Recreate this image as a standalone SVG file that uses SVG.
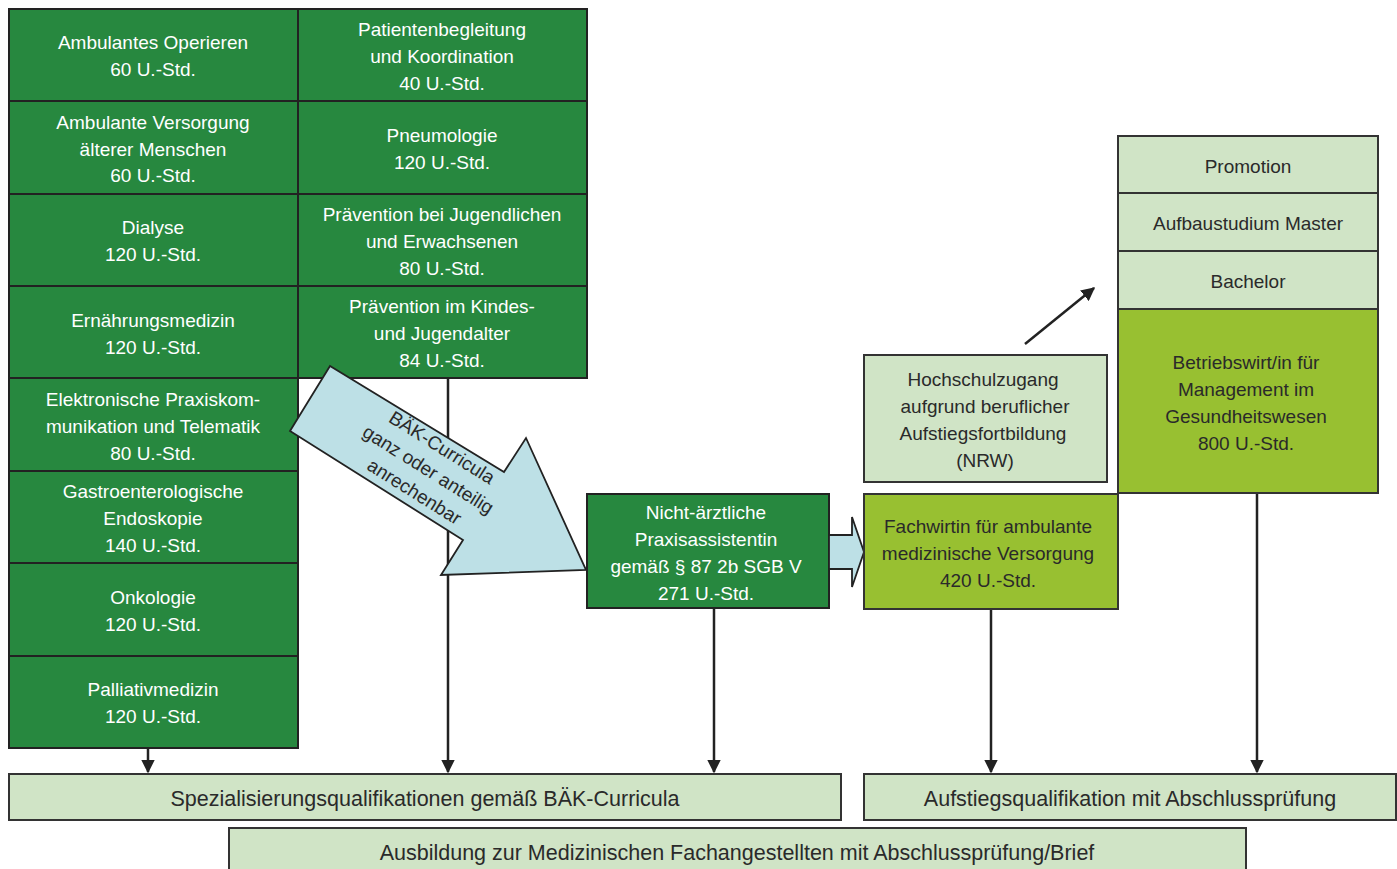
<svg xmlns="http://www.w3.org/2000/svg" width="1397" height="869" viewBox="0 0 1397 869">
<defs>
<style>
.dg{fill:#27883f;stroke:#222;stroke-width:2}
.lg{fill:#d0e4c6;stroke:#333;stroke-width:2}
.yg{fill:#98c031;stroke:#333;stroke-width:2}
.bl{fill:#bde0e6;stroke:#222;stroke-width:1.8;stroke-linejoin:miter}
text{font-family:"Liberation Sans",Arial,sans-serif;font-size:19px;text-anchor:middle}
.big{font-size:21.5px}
.w{fill:#ffffff}
.k{fill:#2a2a2a}
.ln{stroke:#222;stroke-width:2.5;fill:none}
</style>
<marker id="ah" viewBox="0 0 10 10" refX="9" refY="5" markerWidth="5.5" markerHeight="5.5" orient="auto" markerUnits="strokeWidth">
<path d="M0,0 L10,5 L0,10 z" fill="#222"/>
</marker>
</defs>
<rect width="1397" height="869" fill="#fff"/>

<g id="connectors">
<line class="ln" x1="148" y1="748" x2="148" y2="772" marker-end="url(#ah)"/>
<line class="ln" x1="448" y1="378" x2="448" y2="772" marker-end="url(#ah)"/>
<line class="ln" x1="714" y1="608" x2="714" y2="772" marker-end="url(#ah)"/>
<line class="ln" x1="991" y1="609" x2="991" y2="772" marker-end="url(#ah)"/>
<line class="ln" x1="1257" y1="493" x2="1257" y2="772" marker-end="url(#ah)"/>
<line class="ln" x1="1025" y1="344" x2="1094" y2="288" marker-end="url(#ah)"/>
</g>

<g id="n-ambop"><rect class="dg" x="9" y="9" width="289" height="92"/><text class="w" x="153" y="49">Ambulantes Operieren</text><text class="w" x="153" y="76">60 U.-Std.</text></g>
<g id="n-ambvers"><rect class="dg" x="9" y="101" width="289" height="93"/><text class="w" x="153" y="129">Ambulante Versorgung</text><text class="w" x="153" y="156">älterer Menschen</text><text class="w" x="153" y="182">60 U.-Std.</text></g>
<g id="n-dialyse"><rect class="dg" x="9" y="194" width="289" height="92"/><text class="w" x="153" y="234">Dialyse</text><text class="w" x="153" y="261">120 U.-Std.</text></g>
<g id="n-ernaehrung"><rect class="dg" x="9" y="286" width="289" height="92"/><text class="w" x="153" y="327">Ernährungsmedizin</text><text class="w" x="153" y="354">120 U.-Std.</text></g>
<g id="n-elektro"><rect class="dg" x="9" y="378" width="289" height="93"/><text class="w" x="153" y="406">Elektronische Praxiskom-</text><text class="w" x="153" y="433">munikation und Telematik</text><text class="w" x="153" y="460">80 U.-Std.</text></g>
<g id="n-gastro"><rect class="dg" x="9" y="471" width="289" height="92"/><text class="w" x="153" y="498">Gastroenterologische</text><text class="w" x="153" y="525">Endoskopie</text><text class="w" x="153" y="552">140 U.-Std.</text></g>
<g id="n-onko"><rect class="dg" x="9" y="563" width="289" height="93"/><text class="w" x="153" y="604">Onkologie</text><text class="w" x="153" y="631">120 U.-Std.</text></g>
<g id="n-palliativ"><rect class="dg" x="9" y="656" width="289" height="92"/><text class="w" x="153" y="696">Palliativmedizin</text><text class="w" x="153" y="723">120 U.-Std.</text></g>

<g id="n-patient"><rect class="dg" x="298" y="9" width="289" height="92"/><text class="w" x="442" y="36">Patientenbegleitung</text><text class="w" x="442" y="63">und Koordination</text><text class="w" x="442" y="90">40 U.-Std.</text></g>
<g id="n-pneumo"><rect class="dg" x="298" y="101" width="289" height="93"/><text class="w" x="442" y="142">Pneumologie</text><text class="w" x="442" y="169">120 U.-Std.</text></g>
<g id="n-praevjug"><rect class="dg" x="298" y="194" width="289" height="92"/><text class="w" x="442" y="221">Prävention bei Jugendlichen</text><text class="w" x="442" y="248">und Erwachsenen</text><text class="w" x="442" y="275">80 U.-Std.</text></g>
<g id="n-praevkind"><rect class="dg" x="298" y="286" width="289" height="92"/><text class="w" x="442" y="313">Prävention im Kindes-</text><text class="w" x="442" y="340">und Jugendalter</text><text class="w" x="442" y="367">84 U.-Std.</text></g>

<g id="n-bigarrow">
<polygon class="bl" points="330,366 290,431 463,540 441,575 586,570 526,438 504,472"/>
<g transform="translate(428,470) rotate(32)">
<text class="k" x="0" y="-20">BÄK-Curricula</text>
<text class="k" x="0" y="6">ganz oder anteilig</text>
<text class="k" x="0" y="32">anrechenbar</text>
</g>
</g>

<g id="n-npa"><rect class="dg" x="587" y="494" width="242" height="114"/><text class="w" x="706" y="519">Nicht-ärztliche</text><text class="w" x="706" y="546">Praxisassistentin</text><text class="w" x="706" y="573">gemäß § 87 2b SGB V</text><text class="w" x="706" y="600">271 U.-Std.</text></g>

<g id="n-smallarrow"><polygon class="bl" points="829,535 852,535 852,517 864,552 852,587 852,569 829,569"/></g>

<g id="n-fachwirtin"><rect class="yg" x="864" y="494" width="254" height="115"/><text class="k" x="988" y="533">Fachwirtin für ambulante</text><text class="k" x="988" y="560">medizinische Versorgung</text><text class="k" x="988" y="587">420 U.-Std.</text></g>

<g id="n-hochschul"><rect class="lg" x="864" y="355" width="243" height="127"/><text class="k" x="983" y="386">Hochschulzugang</text><text class="k" x="985" y="413">aufgrund beruflicher</text><text class="k" x="983" y="440">Aufstiegsfortbildung</text><text class="k" x="985" y="467">(NRW)</text></g>

<g id="n-promotion"><rect class="lg" x="1118" y="136" width="260" height="57"/><text class="k" x="1248" y="173">Promotion</text></g>
<g id="n-master"><rect class="lg" x="1118" y="193" width="260" height="58"/><text class="k" x="1248" y="230">Aufbaustudium Master</text></g>
<g id="n-bachelor"><rect class="lg" x="1118" y="251" width="260" height="58"/><text class="k" x="1248" y="288">Bachelor</text></g>
<g id="n-betriebswirt"><rect class="yg" x="1118" y="309" width="260" height="184"/><text class="k" x="1246" y="369">Betriebswirt/in für</text><text class="k" x="1246" y="396">Management im</text><text class="k" x="1246" y="423">Gesundheitswesen</text><text class="k" x="1246" y="450">800 U.-Std.</text></g>

<g id="n-spez"><rect class="lg" x="9" y="774" width="832" height="46"/><text class="k big" x="425" y="806">Spezialisierungsqualifikationen gemäß BÄK-Curricula</text></g>
<g id="n-aufstieg"><rect class="lg" x="864" y="774" width="532" height="46"/><text class="k big" x="1130" y="806">Aufstiegsqualifikation mit Abschlussprüfung</text></g>
<g id="n-ausbildung"><rect class="lg" x="229" y="828" width="1017" height="50"/><text class="k big" x="737" y="860">Ausbildung zur Medizinischen Fachangestellten mit Abschlussprüfung/Brief</text></g>
</svg>
